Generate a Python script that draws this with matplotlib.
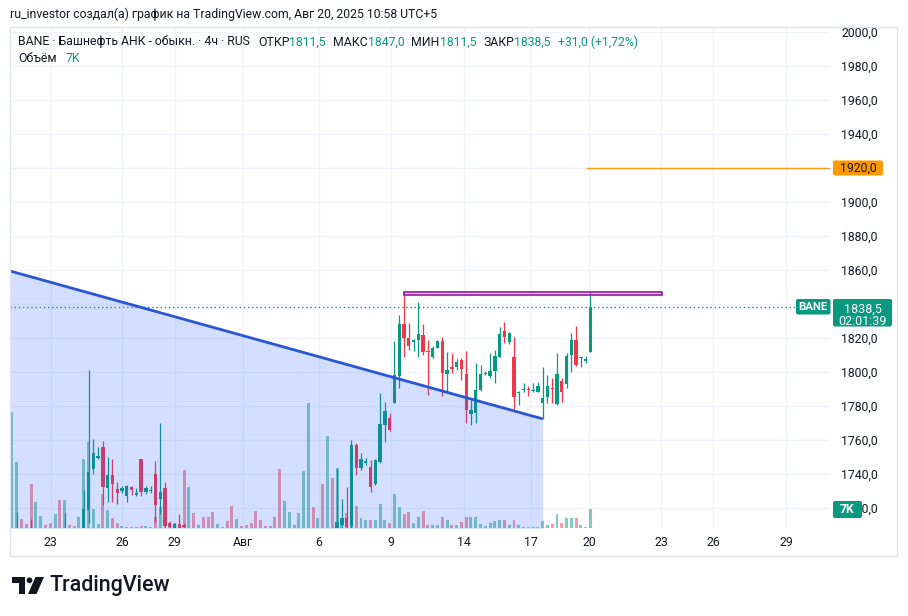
import matplotlib
matplotlib.use('Agg')
import matplotlib.pyplot as plt
from matplotlib.patches import Rectangle, Polygon, Circle, FancyBboxPatch
import numpy as np

plt.rcParams['font.family'] = ['Roboto', 'DejaVu Sans']

# ---------------- data (4h candles, BANE) ----------------
opens = [1690, 1698, 1706, 1700, 1705, 1694, 1702, 1704, 1702, 1700,
         1703, 1696, 1704, 1702, 1701, 1704, 1718.8, 1743, 1749.5, 1756,
         1732, 1739.5, 1731, 1730, 1727, 1732.5, 1727.5, 1748.5, 1729.5, 1730,
         1740, 1725.3, 1732, 1711, 1706, 1710.5, 1710, 1700, 1705, 1700,
         1702, 1698, 1695, 1690, 1692, 1693, 1690, 1684, 1688, 1687,
         1685, 1683, 1678, 1676, 1675, 1674, 1671, 1662, 1668, 1672,
         1673, 1677, 1686, 1700, 1696, 1698, 1690, 1704, 1700, 1710,
         1714, 1709.5, 1757, 1743.7, 1746.3, 1744.3, 1734, 1747.2, 1768.8, 1772.7,
         1782, 1797.8, 1828, 1820.2, 1817.5, 1818.8, 1821.6, 1812.5, 1809, 1814.3,
         1818.4, 1798.6, 1803.1, 1802.7, 1807, 1798.8, 1775.3, 1775.7, 1789.4, 1798.6,
         1797.6, 1800.6, 1809, 1824.1, 1817.8, 1809, 1787.5, 1789.4, 1790, 1789,
         1788.4, 1781.6, 1785.5, 1790.5, 1781, 1794.7, 1792.9, 1810, 1818.8, 1808,
         1806.5, 1811.5]
highs = [1704, 1717.8, 1707, 1702, 1713.3, 1705, 1706, 1705, 1703, 1705,
         1704, 1717, 1705, 1703, 1706, 1730.6, 1801.2, 1760.6, 1756, 1759.5,
         1750, 1749, 1735.5, 1733, 1733.5, 1733, 1731.5, 1749, 1733, 1733,
         1747.5, 1770, 1735, 1712.5, 1711, 1716.5, 1711, 1706, 1706, 1703,
         1703, 1699, 1696, 1693, 1694, 1694, 1691, 1689, 1689, 1688,
         1686, 1684, 1679, 1677, 1676, 1675, 1672, 1669, 1673, 1674,
         1678, 1687, 1702, 1701, 1699, 1699, 1705, 1705, 1743, 1725.5,
         1732.5, 1760, 1758, 1752.2, 1749.2, 1748.2, 1748.6, 1787.5, 1782.6, 1775.7,
         1818.4, 1833.5, 1846.5, 1828.6, 1819.2, 1841, 1828, 1818.8, 1815, 1818.6,
         1820.8, 1812, 1811, 1807.6, 1808, 1812.4, 1783.5, 1805.1, 1804.1, 1800.6,
         1811, 1813, 1826.7, 1829.6, 1823.8, 1820.8, 1789, 1793.7, 1791.5, 1793.3,
         1794.3, 1802.7, 1798.2, 1796.3, 1811, 1796.3, 1811, 1822.7, 1827.3, 1809,
         1809.2, 1847.0]
lows = [1686, 1695, 1697, 1694, 1690, 1692, 1700, 1700, 1698, 1699,
        1693, 1694, 1700, 1699, 1700, 1702, 1711, 1740, 1749, 1721.5,
        1723.5, 1723.5, 1722.5, 1729, 1723.7, 1727.5, 1727, 1727, 1728, 1728.5,
        1712, 1716.5, 1708, 1707, 1705, 1706, 1706, 1696, 1698, 1699,
        1696, 1693, 1688, 1689, 1691, 1689, 1682, 1683, 1686, 1684,
        1682, 1676, 1675, 1674, 1673, 1670, 1660, 1660, 1667, 1671,
        1672, 1676, 1685, 1694, 1695, 1688, 1689, 1698, 1698, 1707,
        1707, 1708, 1739.4, 1742.4, 1745, 1729.6, 1733.5, 1746.3, 1759, 1765.5,
        1781.5, 1790.4, 1809, 1813, 1812.6, 1809, 1810, 1786.5, 1808.4, 1814,
        1786, 1788, 1799.6, 1801.2, 1795, 1770.2, 1768.8, 1769.8, 1789, 1798.2,
        1796.3, 1793.7, 1808.8, 1817, 1816.3, 1778, 1780.6, 1788.4, 1786, 1788.4,
        1788, 1772.4, 1782, 1781.6, 1780.6, 1782.5, 1790.4, 1800.2, 1803.5, 1803,
        1805.5, 1811.5]
closes = [1700, 1706, 1700, 1697, 1694, 1702, 1704, 1702, 1700, 1703,
          1696, 1704, 1702, 1701, 1704, 1719.4, 1741.4, 1752.5, 1750.5, 1732.5,
          1739.5, 1734, 1728.5, 1732, 1733, 1730.5, 1729, 1729.5, 1732, 1730.5,
          1722, 1729.2, 1709.5, 1709, 1710.8, 1708, 1708.5, 1705, 1700, 1702,
          1698, 1695, 1690, 1692, 1693, 1690, 1684, 1688, 1687, 1685,
          1683, 1678, 1676, 1675, 1674, 1671, 1662, 1668, 1672, 1673,
          1677, 1686, 1700, 1696, 1698, 1690, 1704, 1700, 1712, 1714,
          1709, 1757, 1743.3, 1748.8, 1747.6, 1732.6, 1748.2, 1769.4, 1777.1, 1765.9,
          1798.2, 1828, 1819.8, 1815, 1818.8, 1822.2, 1812, 1811.6, 1814, 1818.2,
          1799.2, 1801.2, 1801.8, 1806.1, 1801.8, 1777.7, 1777.7, 1789.4, 1798.8, 1799.2,
          1800.6, 1809.4, 1822.4, 1820.8, 1822.8, 1785.1, 1788.4, 1789.6, 1789.4, 1789.6,
          1791.9, 1784.5, 1792, 1789.8, 1798.6, 1788, 1809.6, 1818.8, 1804.1, 1808.6,
          1807.5, 1838.5]
volumes = [42.8, 24.4, 3.3, 1.5, 16.2, 9.7, 4.5, 1.0, 1.7, 5.2,
           10.3, 10.3, 1.2, 0.8, 4.2, 25.3, 31.8, 7.0, 1.4, 12.6,
           6.6, 3.8, 2.0, 0.8, 0.5, 0.5, 0.5, 0.8, 0.6, 0.5,
           4.2, 7.7, 2.9, 1.1, 1.7, 1.4, 21.3, 15.2, 5.6, 1.2,
           4.2, 3.9, 5.9, 1.6, 0.5, 2.6, 8.2, 3.3, 0.8, 1.2,
           1.7, 6.3, 2.9, 0.8, 0.8, 4.2, 21.8, 9.9, 6.0, 1.2,
           5.6, 21.0, 46.0, 7.7, 3.7, 16.2, 33.9, 18.4, 22.1, 2.9,
           5.5, 7.4, 8.1, 3.6, 2.9, 2.9, 2.9, 8.7, 2.9, 1.8,
           12.5, 7.8, 5.2, 6.0, 1.7, 4.2, 6.4, 1.1, 1.1, 1.1,
           4.2, 2.9, 1.1, 1.1, 2.3, 3.9, 3.9, 3.9, 1.5, 0.7,
           1.7, 2.7, 2.9, 2.9, 1.1, 2.9, 1.1, 0.5, 0.5, 0.5,
           0.5, 2.6, 1.1, 1.4, 5.2, 1.7, 3.6, 3.8, 3.6, 1.1,
           0.5, 7.0]

date_pos = [8.1, 23.0, 34.0, 48.3, 64.2, 79.3, 94.6, 108.6, 120.7, 135.8, 146.7, 161.9]
date_labels = ['23', '26', '29', 'Авг', '6', '9', '14', '17', '20', '23', '26', '29']
price_ticks = list(range(1720, 2001, 20))
hidden_ticks = [1840]  # covered by the last-price label

trend_x = [-0.42, 111.0]
trend_y = [1859.4, 1772.4]
box_x = [82.0, 136.0]
box_y = [1845.5, 1847.2]
target_price = 1920.0
target_start = 120.0

UP = '#089981'
DOWN = '#f23645'
TXT = '#131722'
W, H = 908, 616
FS = 8.8


def fmt(v):
    return ('%.1f' % v).replace('.', ',')


fig = plt.figure(figsize=(W / 100, H / 100), dpi=100)
fig.patch.set_facecolor('white')

PL, PR, PT, PB = 10, 830, 27, 528
ax = fig.add_axes([PL / W, 1 - PB / H, (PR - PL) / W, (PB - PT) / H])
ax_vol = ax.twinx()
ax_vol.set_zorder(1)
ax.set_zorder(2)
ax.patch.set_visible(False)
ax_vol.patch.set_visible(False)

idx = np.arange(len(opens))
o = np.array(opens); c = np.array(closes)
hi = np.array(highs); lo = np.array(lows)
up = c >= o
col = np.where(up, UP, DOWN)

ax.set_xlim(-0.42, 171.1)
ax.set_ylim(1708.2, 2002.94)
ax_vol.set_ylim(0, 184.6)

# grid (under volume)
ax_vol.hlines(price_ticks, 0, 1, transform=ax.get_yaxis_transform(), color='#f0f3fa', lw=1, zorder=0)
ax_vol.vlines(date_pos, 0, 1, transform=ax_vol.get_xaxis_transform(), color='#f0f3fa', lw=1, zorder=0)

# volume
vcol = [(8 / 255, 153 / 255, 129 / 255, 0.5) if u else (242 / 255, 54 / 255, 69 / 255, 0.5) for u in up]
ax_vol.bar(idx, volumes, width=0.62, color=vcol, lw=0, zorder=2)

# candles
ax.vlines(idx, lo, hi, colors=col, lw=0.9, zorder=3)
body_h = np.maximum(np.abs(c - o), 0.6)
ax.bar(idx, body_h, bottom=np.minimum(o, c), width=0.7, color=col, lw=0, zorder=3)

# last price dotted line
ax.axhline(closes[-1], color=UP, lw=1, ls=(0, (1, 2)), zorder=2)

# drawings
ax.fill_between(trend_x, trend_y, 1600, color='#2962ff', alpha=0.2, lw=0, zorder=4)
ax.plot(trend_x, trend_y, color='#2a56d6', lw=2, zorder=5, solid_capstyle='butt')
ax.add_patch(Rectangle((box_x[0], box_y[0]), box_x[1] - box_x[0], box_y[1] - box_y[0],
                       facecolor=(156 / 255, 39 / 255, 176 / 255, 0.2), edgecolor='#9c27b0',
                       lw=1.3, zorder=5))
ax.hlines(target_price, target_start, 171.1, color='#f59c1a', lw=1, zorder=5)

# axes
for a in (ax, ax_vol):
    for s in a.spines.values():
        s.set_visible(False)
ax_vol.set_yticks([])
ax.set_xticks(date_pos)
ax.set_xticklabels(date_labels)
ax.yaxis.tick_right()
ax.set_yticks(price_ticks)
ax.set_yticklabels(['' if p in hidden_ticks else fmt(p) for p in price_ticks])
ax.tick_params(axis='x', length=0, pad=6, labelsize=FS, labelcolor=TXT)
ax.tick_params(axis='y', length=0, pad=8, labelsize=FS, labelcolor=TXT)

# overlay in pixel coords
ov = fig.add_axes([0, 0, 1, 1], zorder=10)
ov.set_xlim(0, W)
ov.set_ylim(H, 0)
ov.axis('off')
ov.patch.set_visible(False)


def py(p):
    return H - ax.transData.transform((0, p))[1]


def vy(v):
    return H - ax_vol.transData.transform((0, v))[1]


ov.add_patch(Rectangle((10, 27), 887, 529, fill=False, edgecolor='#e0e3eb', lw=1))

# price labels
yl = py(closes[-1])
ov.add_patch(FancyBboxPatch((796, yl - 7.5), 34.5, 15.5, boxstyle='round,pad=0,rounding_size=2',
                            facecolor=UP, edgecolor='none'))
ov.text(813.2, yl, 'BANE', color='white', fontsize=8.2, fontweight='bold', ha='center', va='center')
ov.add_patch(FancyBboxPatch((833, yl - 7.5), 59, 27.5, boxstyle='round,pad=0,rounding_size=2',
                            facecolor=UP, edgecolor='none'))
ov.text(862.5, yl + 2.5, fmt(closes[-1]), color='white', fontsize=FS + 0.2, ha='center', va='center')
ov.text(862.5, yl + 14.5, '02:01:39', color='white', fontsize=FS + 0.2, ha='center', va='center')

yt = py(target_price)
ov.add_patch(FancyBboxPatch((833, yt - 7.5), 50, 15, boxstyle='round,pad=0,rounding_size=2',
                            facecolor='#ff9800', edgecolor='none'))
ov.text(858, yt, fmt(target_price), color=TXT, fontsize=FS, ha='center', va='center')

yv = vy(volumes[-1])
ov.add_patch(FancyBboxPatch((833, yv - 8), 29, 17, boxstyle='round,pad=0,rounding_size=2',
                            facecolor=UP, edgecolor='none'))
ov.text(847.5, yv + 0.5, '%dK' % round(volumes[-1]), color='white', fontsize=FS, fontweight='bold',
        ha='center', va='center')

# header texts
ov.text(10, 14, 'ru_investor создал(а) график на TradingView.com, Авг 20, 2025 10:58 UTC+5',
        color=TXT, fontsize=FS, ha='left', va='center')

r = fig.canvas.get_renderer()


def segments(x, y, parts):
    for gap, s, color in parts:
        x += gap
        t = ov.text(x, y, s, color=color, fontsize=FS, ha='left', va='center')
        x += t.get_window_extent(renderer=r).width


chg = closes[-1] - closes[-2]
pct = chg / closes[-2] * 100
segments(18, 42, [
    (0, 'BANE · Башнефть АНК - обыкн. · 4ч · RUS', TXT),
    (8, 'ОТКР', TXT), (0, fmt(opens[-1]), UP),
    (7, 'МАКС', TXT), (0, fmt(highs[-1]), UP),
    (7, 'МИН', TXT), (0, fmt(lows[-1]), UP),
    (7, 'ЗАКР', TXT), (0, fmt(closes[-1]), UP),
    (7, '+' + fmt(chg) + ' (+' + ('%.2f' % pct).replace('.', ',') + '%)', UP),
])
segments(18, 58, [(0, 'Объём', TXT), (9, '%dK' % round(volumes[-1]), UP)])

# TradingView logo
ov.add_patch(Rectangle((12, 577), 12.5, 5.5, color='#131722', lw=0))
ov.add_patch(Rectangle((18.5, 577), 6, 17, color='#131722', lw=0))
ov.add_patch(Circle((29.5, 580.3), 2.9, color='#131722', lw=0))
ov.add_patch(Polygon([(35.5, 577), (44, 577), (36.5, 594), (28, 594)], closed=True, color='#131722', lw=0))
ov.text(49, 586, 'TradingView', color='#131722', fontsize=15.5, fontweight='medium', ha='left', va='center')

fig.savefig('out.png', dpi=100, facecolor='white')
